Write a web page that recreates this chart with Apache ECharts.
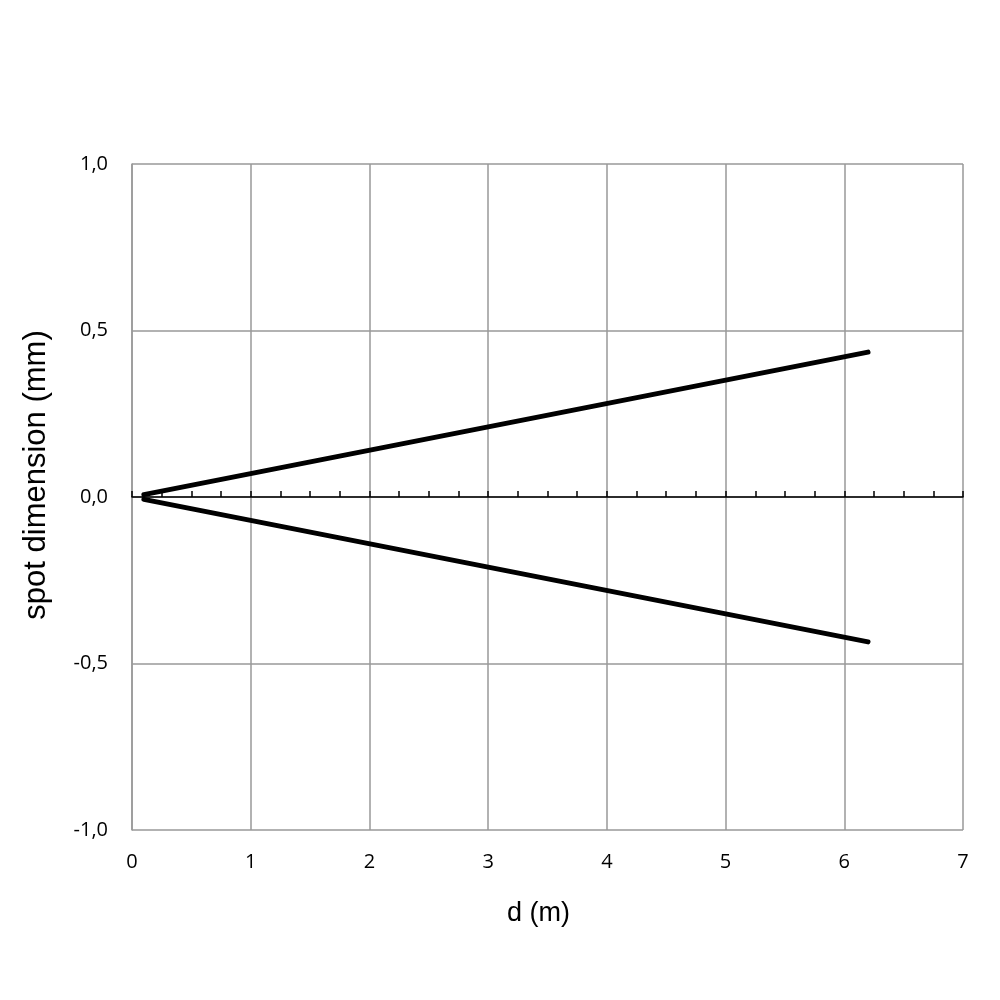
<!DOCTYPE html>
<html>
<head>
<meta charset="utf-8">
<script src="https://cdn.jsdelivr.net/npm/echarts@6/dist/echarts.min.js"></script>
<style>html,body{margin:0;padding:0;background:#fff}#c{width:1000px;height:1000px}</style>
</head>
<body>
<div id="c"></div>
<script>
const dValues = [0.1, 6.2];
const upperSpot = [0.007, 0.435];
const lowerSpot = [-0.007, -0.435];
const xTitle = 'd (m)';
const yTitle = 'spot dimension (mm)';

const chart = echarts.init(document.getElementById('c'));
const toPairs = (xs, ys) => xs.map((x, i) => [x, ys[i]]);
const tickFont = { fontFamily: 'Open Sans', fontSize: 20, color: '#000' };
chart.setOption({
  animation: false,
  backgroundColor: '#fff',
  grid: { left: 132, right: 37, top: 164, bottom: 170, containLabel: false },
  xAxis: [
    {
      type: 'value', min: 0, max: 7, interval: 1, position: 'bottom',
      axisLine: { show: false, onZero: false }, axisTick: { show: false },
      axisLabel: Object.assign({ margin: 22, formatter: v => String(v) }, tickFont),
      splitLine: { show: true, lineStyle: { color: '#999', width: 1.5 } },
      name: xTitle, nameLocation: 'middle', nameGap: 70,
      nameTextStyle: { fontFamily: 'Liberation Sans', fontSize: 27, color: '#000', padding: [0, 18, 0, 0] }
    },
    {
      type: 'value', min: 0, max: 7, interval: 0.25, position: 'bottom',
      axisLine: { show: true, onZero: true, lineStyle: { color: '#000', width: 1.5 } },
      axisTick: { show: true, inside: true, length: 6, lineStyle: { color: '#000', width: 1.5 } },
      axisLabel: { show: false }, splitLine: { show: false }
    }
  ],
  yAxis: {
    type: 'value', min: -1, max: 1, interval: 0.5,
    axisLine: { show: true, lineStyle: { color: '#999', width: 1.5 } },
    axisTick: { show: false },
    axisLabel: Object.assign({ margin: 24, formatter: v => v.toFixed(1).replace('.', ',') }, tickFont),
    splitLine: { show: true, lineStyle: { color: '#999', width: 1.5 } },
    name: yTitle, nameLocation: 'middle', nameGap: 80,
    nameTextStyle: { fontFamily: 'Liberation Sans', fontSize: 31, color: '#000', padding: [0, 0, 0, 44] }
  },
  series: [
    { type: 'line', xAxisIndex: 1, data: toPairs(dValues, upperSpot), showSymbol: false,
      lineStyle: { color: '#000', width: 5, cap: 'round' } },
    { type: 'line', xAxisIndex: 1, data: toPairs(dValues, lowerSpot), showSymbol: false,
      lineStyle: { color: '#000', width: 5, cap: 'round' } }
  ]
});
</script>
</body>
</html>
